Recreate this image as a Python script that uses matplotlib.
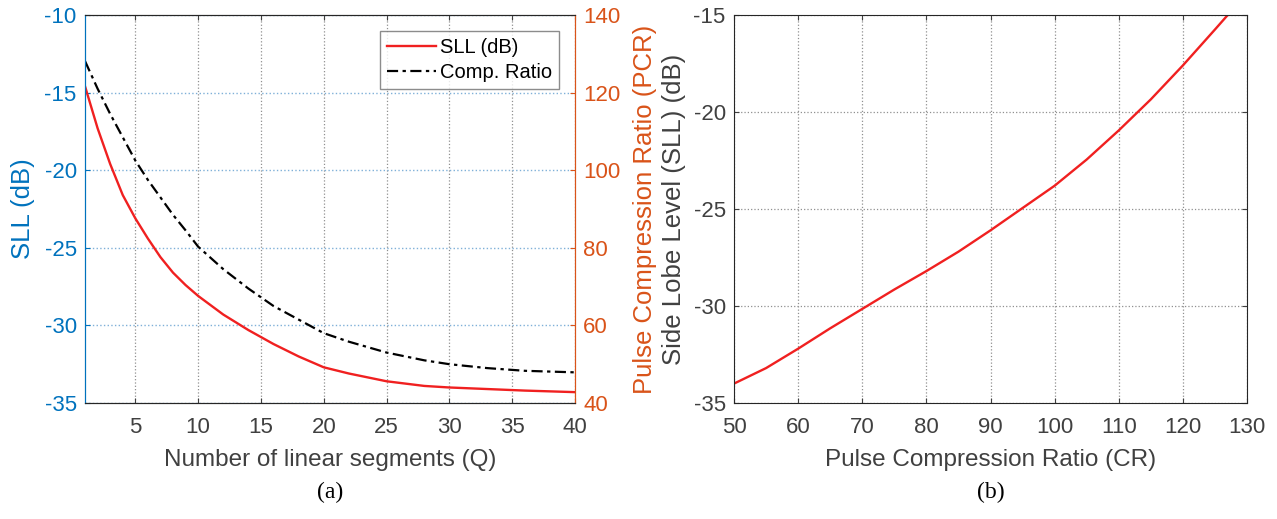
import numpy as np
import matplotlib
matplotlib.use('Agg')
import matplotlib.pyplot as plt

plt.rcParams['font.family'] = ['Liberation Sans', 'DejaVu Sans']
plt.rcParams['axes.unicode_minus'] = False

# sidelobe level and compression ratio vs number of linear segments
q_seg = [1, 2, 3, 4, 5, 6, 7, 8, 9, 10, 12, 14, 16, 18, 20, 22, 25, 28, 30, 33, 36, 40]
sll_q = [-14.6, -17.3, -19.6, -21.6, -23.1, -24.4, -25.6, -26.6, -27.4, -28.1,
         -29.3, -30.3, -31.2, -32.0, -32.7, -33.1, -33.6, -33.9, -34.0, -34.1, -34.2, -34.3]
pcr_q = [128.1, 121.0, 114.5, 108.5, 102.5, 97.5, 93.0, 88.5, 84.5, 80.3,
         74.5, 69.5, 65.0, 61.5, 58.0, 55.8, 53.0, 51.0, 50.0, 49.0, 48.3, 47.9]

# sidelobe level vs pulse compression ratio
cr = [50, 55, 60, 65, 70, 75, 80, 85, 90, 95, 100, 105, 110, 115, 120, 125, 127]
sll_cr = [-34.0, -33.2, -32.2, -31.15, -30.15, -29.15, -28.2, -27.2, -26.1, -24.95,
          -23.8, -22.45, -20.95, -19.35, -17.6, -15.75, -15.0]

BLUE = '#0072BD'
ORANGE = '#D95319'
GRAY = '#404040'
RED = '#F02020'

fig = plt.figure(figsize=(12.77, 5.19), dpi=100)
ax1 = fig.add_axes([0.0666, 0.2235, 0.3837, 0.7476])
ax2 = ax1.twinx()
ax3 = fig.add_axes([0.5748, 0.2235, 0.4017, 0.7476])

tick_fs = 16
xlab_fs = 17.5
ylab_fs = 18.5

# ---- (a) ----
l1, = ax1.plot(q_seg, sll_q, color=RED, lw=1.7, label='SLL (dB)')
l2, = ax2.plot(q_seg, pcr_q, color='black', lw=1.6, ls=(0, (5, 2, 1.5, 2)), label='Comp. Ratio')

ax1.set_xlim(1, 40)
ax1.set_ylim(-35, -10)
ax2.set_ylim(40, 140)
ax1.set_xticks(np.arange(5, 41, 5))
ax1.set_yticks(np.arange(-35, -9, 5))
ax2.set_yticks(np.arange(40, 141, 20))

ax1.xaxis.grid(True, ls=':', color='#909090', lw=0.9)
ax1.yaxis.grid(True, ls=':', color='#7fb0d8', lw=1.0)
ax1.set_axisbelow(True)

ax1.tick_params(axis='x', direction='in', colors=GRAY, labelsize=tick_fs, top=True, pad=10)
ax1.tick_params(axis='y', direction='in', colors=BLUE, labelsize=tick_fs, pad=6)
ax2.tick_params(axis='y', direction='in', colors=ORANGE, labelsize=tick_fs, pad=6)
for a in (ax1, ax2):
    a.spines['top'].set_color('#262626')
    a.spines['bottom'].set_color('#262626')
    a.spines['left'].set_color(BLUE)
    a.spines['right'].set_color(ORANGE)

ax1.set_xlabel('Number of linear segments (Q)', fontsize=xlab_fs, color=GRAY, labelpad=8)
ax1.set_ylabel('SLL (dB)', fontsize=ylab_fs, color=BLUE)
ax1.yaxis.set_label_coords(-0.102, 0.5)
ax2.set_ylabel('Pulse Compression Ratio (PCR)', fontsize=ylab_fs, color=ORANGE)
ax2.yaxis.set_label_coords(1.118, 0.5)

leg = ax2.legend(handles=[l1, l2], loc='upper right', fontsize=14.5, frameon=True,
                 fancybox=False, edgecolor='#707070', handlelength=2.4,
                 borderaxespad=0.8, labelspacing=0.3, handletextpad=0.2,
                 borderpad=0.35)
leg.get_frame().set_linewidth(1.0)

fig.text(0.0666 + 0.3837 / 2, 0.052, '(a)', ha='center', va='center',
         fontsize=17, family='Liberation Serif', color='black')

# ---- (b) ----
ax3.plot(cr, sll_cr, color=RED, lw=1.7)
ax3.set_xlim(50, 130)
ax3.set_ylim(-35, -15)
ax3.set_xticks(np.arange(50, 131, 10))
ax3.set_yticks(np.arange(-35, -14, 5))
ax3.grid(True, ls=':', color='#909090', lw=0.9)
ax3.set_axisbelow(True)
ax3.tick_params(direction='in', colors=GRAY, labelsize=tick_fs, top=True, right=True)
ax3.tick_params(axis='x', pad=10)
ax3.tick_params(axis='y', pad=6)
for s in ax3.spines.values():
    s.set_color('#262626')
ax3.set_xlabel('Pulse Compression Ratio (CR)', fontsize=xlab_fs, color=GRAY, labelpad=8)
ax3.set_ylabel('Side Lobe Level (SLL) (dB)', fontsize=ylab_fs, color=GRAY)
ax3.yaxis.set_label_coords(-0.093, 0.5)

fig.text(0.5748 + 0.4017 / 2, 0.052, '(b)', ha='center', va='center',
         fontsize=17, family='Liberation Serif', color='black')

fig.savefig('out.png', dpi=100)
